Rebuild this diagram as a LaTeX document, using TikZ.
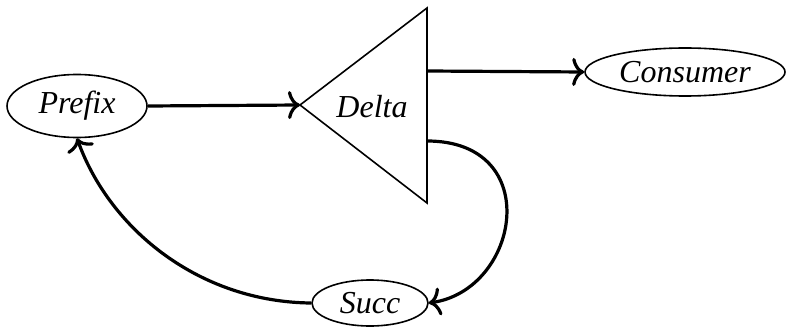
\documentclass[tikz,border=0pt]{standalone}
\usepackage{fontspec}
\setmainfont{Liberation Serif}
\usetikzlibrary{shapes.geometric,arrows.meta}
\begin{document}
\begin{tikzpicture}[x=0.5pt,y=-0.5pt,
  ell/.style={draw,ellipse,line width=0.8pt,inner sep=0pt,font=\fontsize{16}{19}\selectfont\itshape},
  conn/.style={line width=1.6pt,-{To[length=6pt,width=14pt]}},
  lbl/.style={font=\fontsize{16}{19}\selectfont\itshape,inner sep=0pt}]
\useasboundingbox (0,0) rectangle (795,336);
\node[ell,minimum width=70pt,minimum height=31.5pt] (prefix) at (77,106) {Prefix};
\node[ell,minimum width=100pt,minimum height=24pt] (consumer) at (685,72) {Consumer};
\node[ell,minimum width=58pt,minimum height=23pt] (succ) at (370,303) {Succ};
\coordinate (apex) at (300,105);
\coordinate (tr) at (427,8);
\coordinate (br) at (427,203);
\draw[line width=0.8pt,line join=miter] (apex) -- (tr) -- (br) -- cycle;
\node[lbl] (delta) at (372,107) {Delta};
\coordinate (out1) at (427,71);
\coordinate (out2) at (427,141);
\draw[conn] (prefix.east) -- (apex);
\draw[conn] (out1) -- (consumer.west);
\draw[conn] (out2) .. controls (545,141) and (520,290) .. (succ.east);
\draw[conn] (succ.west) .. controls (200,302) and (110,230) .. (prefix.south);
\end{tikzpicture}
\end{document}
